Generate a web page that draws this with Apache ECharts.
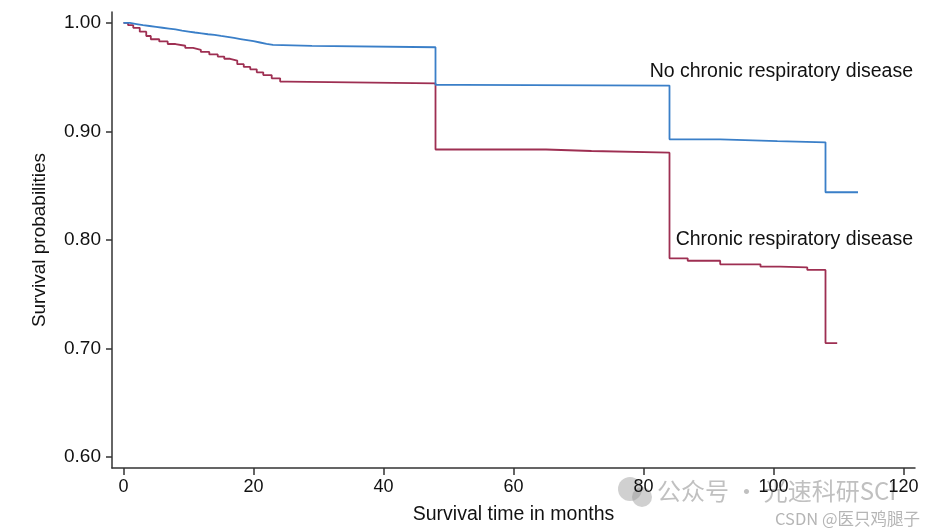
<!DOCTYPE html>
<html>
<head>
<meta charset="utf-8">
<script src="https://cdn.jsdelivr.net/npm/echarts@6/dist/echarts.min.js"></script>
<style>
html,body{margin:0;padding:0;background:#fff;}
#chart{width:932px;height:531px;}
</style>
</head>
<body>
<div id="chart"></div>
<script>
// Kaplan-Meier estimates (months, survival probability)
var noCrdMonths = [0,1,2,3,4,5,6,7,8,9,10,11,12,13,14,15,16,17,18,19,20,21,22,23,29,48,52,84,91.8,100.6,108,113];
var noCrdSurv   = [1.000,0.9990,0.9980,0.9972,0.9964,0.9956,0.9948,0.9940,0.9930,0.9921,0.9912,0.9904,0.9896,0.9890,0.9880,0.9872,0.9862,0.9852,0.9842,0.9832,0.9820,0.9808,0.9798,0.9788,0.9776,0.9430,0.9423,0.8928,0.8912,0.8900,0.8440,0.8440];

var crdMonths = [0,0.7,1.5,2.5,3.5,4.2,5.5,6.8,8,9.5,10.7,11.9,13.2,14.5,15.5,16.4,17.5,18.5,19.5,20.5,21.5,22.8,24.1,25.2,48,65,72,84,86.8,91.8,98,101,105.2,108,109.8];
var crdSurv   = [1.000,0.998,0.9955,0.992,0.988,0.985,0.983,0.9806,0.979,0.977,0.9752,0.9733,0.971,0.969,0.967,0.9653,0.962,0.9595,0.9573,0.9545,0.952,0.949,0.946,0.9444,0.8834,0.8820,0.8805,0.7831,0.7809,0.7776,0.7754,0.7747,0.7724,0.7050,0.7050];

var xTicks = [0,20,40,60,80,100,120];
var yTicks = [0.60,0.70,0.80,0.90,1.00];
var seriesNames = ['No chronic respiratory disease','Chronic respiratory disease'];
var xTitle = 'Survival time in months';
var yTitle = 'Survival probabilities';

function pairs(xs, ys){ return xs.map(function(x,i){ return [x, ys[i]]; }); }

var FONT = '"Liberation Sans", Arial, sans-serif';
var axisColor = '#333';
var chart = echarts.init(document.getElementById('chart'), null, {renderer:'canvas'});
chart.setOption({
  animation:false,
  backgroundColor:'#ffffff',
  grid:{left:112, right:17, top:12, bottom:63, containLabel:false},
  xAxis:{
    type:'value', min:-1.77, max:121.77,
    name:xTitle, nameLocation:'middle', nameGap:37,
    nameTextStyle:{fontFamily:FONT, fontSize:19.5, color:'#111'},
    axisLine:{show:true, onZero:false, lineStyle:{color:axisColor, width:1.5}},
    axisTick:{show:true, length:7, customValues:xTicks, lineStyle:{color:axisColor, width:1.5}},
    axisLabel:{customValues:xTicks, margin:10, fontFamily:FONT, fontSize:18, color:'#111'},
    splitLine:{show:false}
  },
  yAxis:{
    type:'value', min:0.5899, max:1.0101,
    name:yTitle, nameLocation:'middle', nameGap:63, nameRotate:90,
    nameTextStyle:{fontFamily:FONT, fontSize:19, color:'#111'},
    axisLine:{show:true, onZero:false, lineStyle:{color:axisColor, width:1.5}},
    axisTick:{show:true, length:6, customValues:yTicks, lineStyle:{color:axisColor, width:1.5}},
    axisLabel:{customValues:yTicks, margin:11, fontFamily:FONT, fontSize:19, color:'#111',
      formatter:function(v){ return v.toFixed(2); }},
    splitLine:{show:false}
  },
  series:[
    {name:seriesNames[0], type:'line', step:'end', showSymbol:false, symbol:'none',
     data:pairs(noCrdMonths, noCrdSurv), lineStyle:{color:'#3a7fc8', width:1.8}, z:3},
    {name:seriesNames[1], type:'line', step:'end', showSymbol:false, symbol:'none',
     data:pairs(crdMonths, crdSurv), lineStyle:{color:'#9e2f52', width:1.8}, z:2}
  ],
  graphic:[
    {type:'text', right:19, top:62, style:{text:seriesNames[0], font:'19.5px '+FONT, fill:'#111'}},
    {type:'text', right:19, top:230, style:{text:seriesNames[1], font:'19.5px '+FONT, fill:'#111'}},
    {type:'circle', shape:{cx:630, cy:489, r:12}, style:{fill:'rgba(150,150,150,0.45)'}},
    {type:'circle', shape:{cx:642, cy:497, r:10}, style:{fill:'rgba(150,150,150,0.45)'}},
    {type:'text', left:657, top:479, style:{text:'公众号 · 光速科研SCI', font:'24px "Noto Sans CJK SC", sans-serif', fill:'rgba(140,140,140,0.55)'}},
    {type:'text', left:775, top:510, style:{text:'CSDN @医只鸡腿子', font:'16.5px "Noto Sans CJK SC", sans-serif', fill:'rgba(150,150,150,0.7)'}}
  ]
});
</script>
</body>
</html>
